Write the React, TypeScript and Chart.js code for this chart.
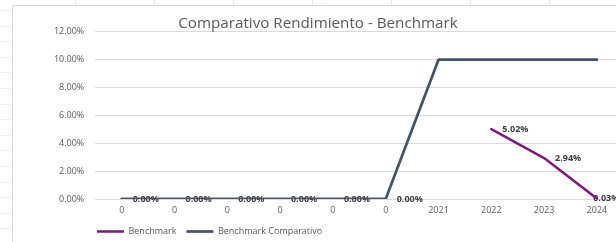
import React, { useEffect, useRef } from "react";
import { Chart, registerables } from "chart.js";

Chart.register(...registerables);

const categories = ["0", "0", "0", "0", "0", "0", "2021", "2022", "2023", "2024"];
const benchmark: (number | null)[] = [0, 0, 0, 0, 0, 0, null, 5.02, 2.94, 0.03];
const benchmarkComparativo: number[] = [0, 0, 0, 0, 0, 0, 10, 10, 10, 10];
const titleText = "Comparativo Rendimiento - Benchmark";
const seriesNames = ["Benchmark", "Benchmark Comparativo"];

const FONT = "'Open Sans', 'Noto Sans', sans-serif";

const sheetPlugin = {
  id: "sheet",
  beforeDraw(chart: any) {
    const { ctx, width, height } = chart;
    ctx.save();
    ctx.fillStyle = "#ffffff";
    ctx.fillRect(0, 0, width, height);
    ctx.strokeStyle = "#e3e3e3";
    ctx.lineWidth = 1;
    for (let x = 75; x < width; x += 79) {
      ctx.beginPath();
      ctx.moveTo(x + 0.5, 0);
      ctx.lineTo(x + 0.5, 5);
      ctx.stroke();
    }
    ctx.strokeStyle = "#efefef";
    for (let y = 10; y < height; y += 15.6) {
      ctx.beginPath();
      ctx.moveTo(0, Math.round(y) + 0.5);
      ctx.lineTo(12, Math.round(y) + 0.5);
      ctx.stroke();
    }
    ctx.strokeStyle = "#d9d9d9";
    ctx.beginPath();
    ctx.moveTo(12.5, height);
    ctx.lineTo(12.5, 5.5);
    ctx.lineTo(width, 5.5);
    ctx.stroke();
    ctx.restore();
  },
};

const labelPlugin = {
  id: "pointLabels",
  beforeDatasetsDraw(chart: any) {
    const { ctx, chartArea } = chart;
    const meta = chart.getDatasetMeta(0);
    const data = chart.data.datasets[0].data as (number | null)[];
    ctx.save();
    ctx.font = `bold 9px ${FONT}`;
    ctx.fillStyle = "#404040";
    ctx.textAlign = "left";
    ctx.textBaseline = "middle";
    meta.data.forEach((pt: any, i: number) => {
      const v = data[i];
      if (v === null || v === undefined) return;
      const txt = v.toFixed(2) + "%";
      const w = ctx.measureText(txt).width;
      const x = Math.min(pt.x + 11, chartArea.right - 4 - w);
      ctx.fillText(txt, x, pt.y);
    });
    ctx.restore();
  },
};

const legendShiftPlugin = {
  id: "legendShift",
  afterLayout(chart: any) {
    if (chart.legend) {
      chart.legend.left = 87;
    }
  },
};

export default function App() {
  const ref = useRef<HTMLCanvasElement | null>(null);

  useEffect(() => {
    if (!ref.current) return;
    const chart = new Chart(ref.current, {
      type: "line",
      data: {
        labels: categories,
        datasets: [
          {
            label: seriesNames[0],
            data: benchmark,
            borderColor: "#7B1C7D",
            backgroundColor: "#7B1C7D",
            borderWidth: 2.5,
            pointRadius: 0,
            pointHoverRadius: 0,
            spanGaps: false,
            borderJoinStyle: "round",
            borderCapStyle: "round",
            order: 2,
          },
          {
            label: seriesNames[1],
            data: benchmarkComparativo,
            borderColor: "#44546A",
            backgroundColor: "#44546A",
            borderWidth: 2.75,
            pointRadius: 0,
            pointHoverRadius: 0,
            borderJoinStyle: "round",
            borderCapStyle: "round",
            order: 1,
          },
        ],
      },
      options: {
        animation: false,
        responsive: false,
        maintainAspectRatio: false,
        layout: { padding: { left: 0, right: 0, top: 0, bottom: -4 } },
        plugins: {
          title: {
            display: true,
            text: titleText,
            color: "#595959",
            font: { family: FONT, size: 15.2, weight: "normal" },
            padding: { top: 14.6, bottom: -1 },
          },
          legend: {
            display: true,
            position: "bottom",
            align: "start",
            labels: {
              usePointStyle: true,
              pointStyle: "line",
              pointStyleWidth: 27,
              boxHeight: 9,
              padding: 10,
              color: "#595959",
              font: { family: FONT, size: 9 },
              sort: (a: any, b: any) => a.datasetIndex - b.datasetIndex,
            },
          },
          tooltip: { enabled: false },
        },
        scales: {
          x: {
            type: "category",
            offset: true,
            grid: { display: false, drawTicks: false },
            border: { display: false },
            ticks: {
              color: "#595959",
              font: { family: FONT, size: 9 },
              padding: 6,
              maxRotation: 0,
              autoSkip: false,
            },
            afterFit: (s: any) => {
              s.height = 18;
            },
          },
          y: {
            type: "linear",
            position: "left",
            min: 0,
            max: 12,
            ticks: {
              stepSize: 2,
              color: "#595959",
              font: { family: FONT, size: 9 },
              padding: 11,
              callback: (v: any) => Number(v).toFixed(2) + "%",
            },
            grid: { color: "#d9d9d9", lineWidth: 1, drawTicks: false },
            border: { display: false },
            afterFit: (s: any) => {
              s.width = 95.3;
            },
          },
          yRight: {
            type: "linear",
            position: "right",
            display: true,
            grid: { display: false, drawTicks: false },
            border: { display: false },
            ticks: { display: false },
            afterFit: (s: any) => {
              s.width = 12.7;
            },
          },
        },
      },
      plugins: [sheetPlugin, labelPlugin, legendShiftPlugin],
    });
    return () => chart.destroy();
  }, []);

  return (
    <div
      style={{
        position: "fixed",
        left: 0,
        top: 0,
        width: 616,
        height: 242,
        overflow: "hidden",
        background: "#ffffff",
      }}
    >
      <canvas ref={ref} width={636} height={242} style={{ display: "block", width: 636, height: 242 }} />
    </div>
  );
}
